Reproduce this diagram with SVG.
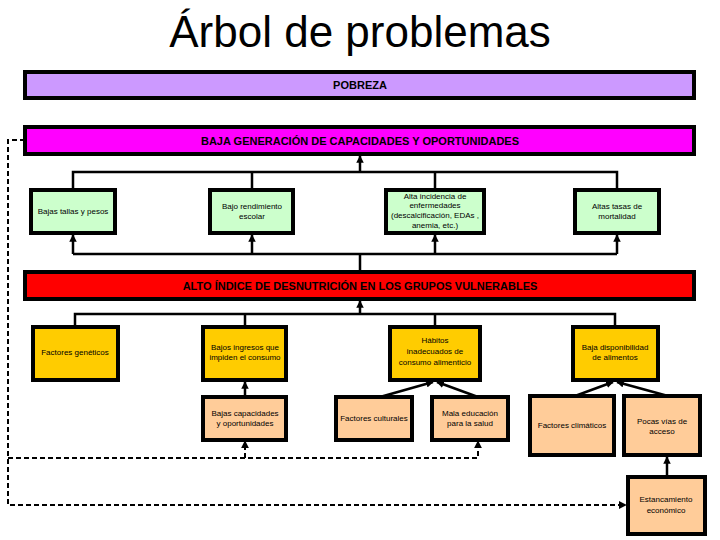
<svg xmlns="http://www.w3.org/2000/svg" width="720" height="540" viewBox="0 0 720 540">
<style>
.b{stroke:#000;stroke-width:4}
.t{font-family:"Liberation Sans",Arial,sans-serif;font-size:8px;text-anchor:middle;fill:#000}
.h{font-family:"Liberation Sans",Arial,sans-serif;font-size:11px;text-anchor:middle;fill:#000;font-weight:bold}
.c{fill:none;stroke:#000;stroke-width:2.5}
.d{fill:none;stroke:#000;stroke-width:2;stroke-dasharray:5,3}
</style>
<defs><marker id="a" viewBox="0 0 10 10" refX="9" refY="5" markerWidth="3" markerHeight="3" orient="auto"><path d="M0,0L10,5L0,10z" fill="#000"/></marker>
<marker id="s" viewBox="0 0 10 10" refX="9" refY="5" markerWidth="4" markerHeight="4" orient="auto"><path d="M0,0L10,5L0,10z" fill="#000"/></marker></defs>
<rect width="720" height="540" fill="#fff"/>
<text x="360" y="47" font-family="Liberation Sans,Arial,sans-serif" font-size="44" text-anchor="middle">Árbol de problemas</text>
<g id="conn">
<path class="c" d="M73,190V172H617V190M252,172V190M435,172V190"/>
<path class="c" d="M360,172V156" marker-end="url(#a)"/>
<path class="c" d="M360,272V254M73,254H617"/>
<path class="c" d="M73,254V235" marker-end="url(#a)"/><path class="c" d="M252,254V235" marker-end="url(#a)"/><path class="c" d="M435,254V235" marker-end="url(#a)"/><path class="c" d="M617,254V235" marker-end="url(#a)"/>
<path class="c" d="M75,327V314H615V327M245,314V327M435,314V327"/>
<path class="c" d="M360,314V301" marker-end="url(#a)"/>
<path class="c" d="M245,397V382" marker-end="url(#a)"/>
<path class="c" d="M380,397L433,382" marker-end="url(#a)"/>
<path class="c" d="M478,397L437,382" marker-end="url(#a)"/>
<path class="c" d="M575,396L613,382" marker-end="url(#a)"/>
<path class="c" d="M668,396L617,382" marker-end="url(#a)"/>
<path class="c" d="M667,477V457" marker-end="url(#a)"/>
<path class="d" d="M25,140H8V505H626" marker-end="url(#s)"/>
<path class="d" d="M8,458H478V441" marker-end="url(#s)"/>
<path class="d" d="M245,458V441" marker-end="url(#s)"/>
</g>
<g id="pobreza"><rect class="b" x="25" y="72" width="669" height="26" fill="#CC99FF"/><text class="h" x="360" y="89">POBREZA</text></g>
<g id="baja"><rect class="b" x="25" y="127" width="669" height="27" fill="#FF00FF"/><text class="h" x="360" y="145">BAJA GENERACIÓN DE CAPACIDADES Y OPORTUNIDADES</text></g>
<g id="g1"><rect class="b" x="31" y="190" width="84" height="43" fill="#CCFFCC"/><text class="t" x="73" y="214">Bajas tallas y pesos</text></g>
<g id="g2"><rect class="b" x="210" y="190" width="83" height="43" fill="#CCFFCC"/><text class="t" x="252" y="209">Bajo rendimiento</text><text class="t" x="252" y="219">escolar</text></g>
<g id="g3"><rect class="b" x="386" y="190" width="98" height="43" fill="#CCFFCC"/><text class="t" x="435" y="199">Alta incidencia de</text><text class="t" x="435" y="208">enfermedades</text><text class="t" x="435" y="218">(descalcificación, EDAs ,</text><text class="t" x="435" y="228">anemia, etc.)</text></g>
<g id="g4"><rect class="b" x="575" y="190" width="84" height="43" fill="#CCFFCC"/><text class="t" x="617" y="209">Altas tasas de</text><text class="t" x="617" y="219">mortalidad</text></g>
<g id="alto"><rect class="b" x="25" y="272" width="669" height="27" fill="#FF0000"/><text class="h" x="360" y="290">ALTO ÍNDICE DE DESNUTRICIÓN EN LOS GRUPOS VULNERABLES</text></g>
<g id="y1"><rect class="b" x="33" y="327" width="85" height="53" fill="#FFCC00"/><text class="t" x="75" y="355">Factores genéticos</text></g>
<g id="y2"><rect class="b" x="203" y="327" width="83" height="53" fill="#FFCC00"/><text class="t" x="245" y="350">Bajos ingresos que</text><text class="t" x="245" y="360">impiden el consumo</text></g>
<g id="y3"><rect class="b" x="390" y="327" width="90" height="53" fill="#FFCC00"/><text class="t" x="435" y="343">Hábitos</text><text class="t" x="435" y="354">inadecuados de</text><text class="t" x="435" y="365">consumo alimenticio</text></g>
<g id="y4"><rect class="b" x="573" y="327" width="85" height="53" fill="#FFCC00"/><text class="t" x="615" y="350">Baja disponibilidad</text><text class="t" x="615" y="360">de alimentos</text></g>
<g id="s1"><rect class="b" x="203" y="397" width="83" height="43" fill="#FFCC99"/><text class="t" x="245" y="416">Bajas capacidades</text><text class="t" x="245" y="426">y oportunidades</text></g>
<g id="s2"><rect class="b" x="336" y="397" width="76" height="43" fill="#FFCC99"/><text class="t" x="374" y="421">Factores culturales</text></g>
<g id="s3"><rect class="b" x="432" y="397" width="76" height="43" fill="#FFCC99"/><text class="t" x="470" y="416">Mala educación</text><text class="t" x="470" y="426">para la salud</text></g>
<g id="s4"><rect class="b" x="530" y="396" width="84" height="59" fill="#FFCC99"/><text class="t" x="572" y="428">Factores climáticos</text></g>
<g id="s5"><rect class="b" x="624" y="396" width="76" height="59" fill="#FFCC99"/><text class="t" x="662" y="424">Pocas vías de</text><text class="t" x="662" y="434">acceso</text></g>
<g id="s6"><rect class="b" x="628" y="477" width="77" height="57" fill="#FFCC99"/><text class="t" x="666" y="502">Estancamiento</text><text class="t" x="666" y="513">económico</text></g>
</svg>
